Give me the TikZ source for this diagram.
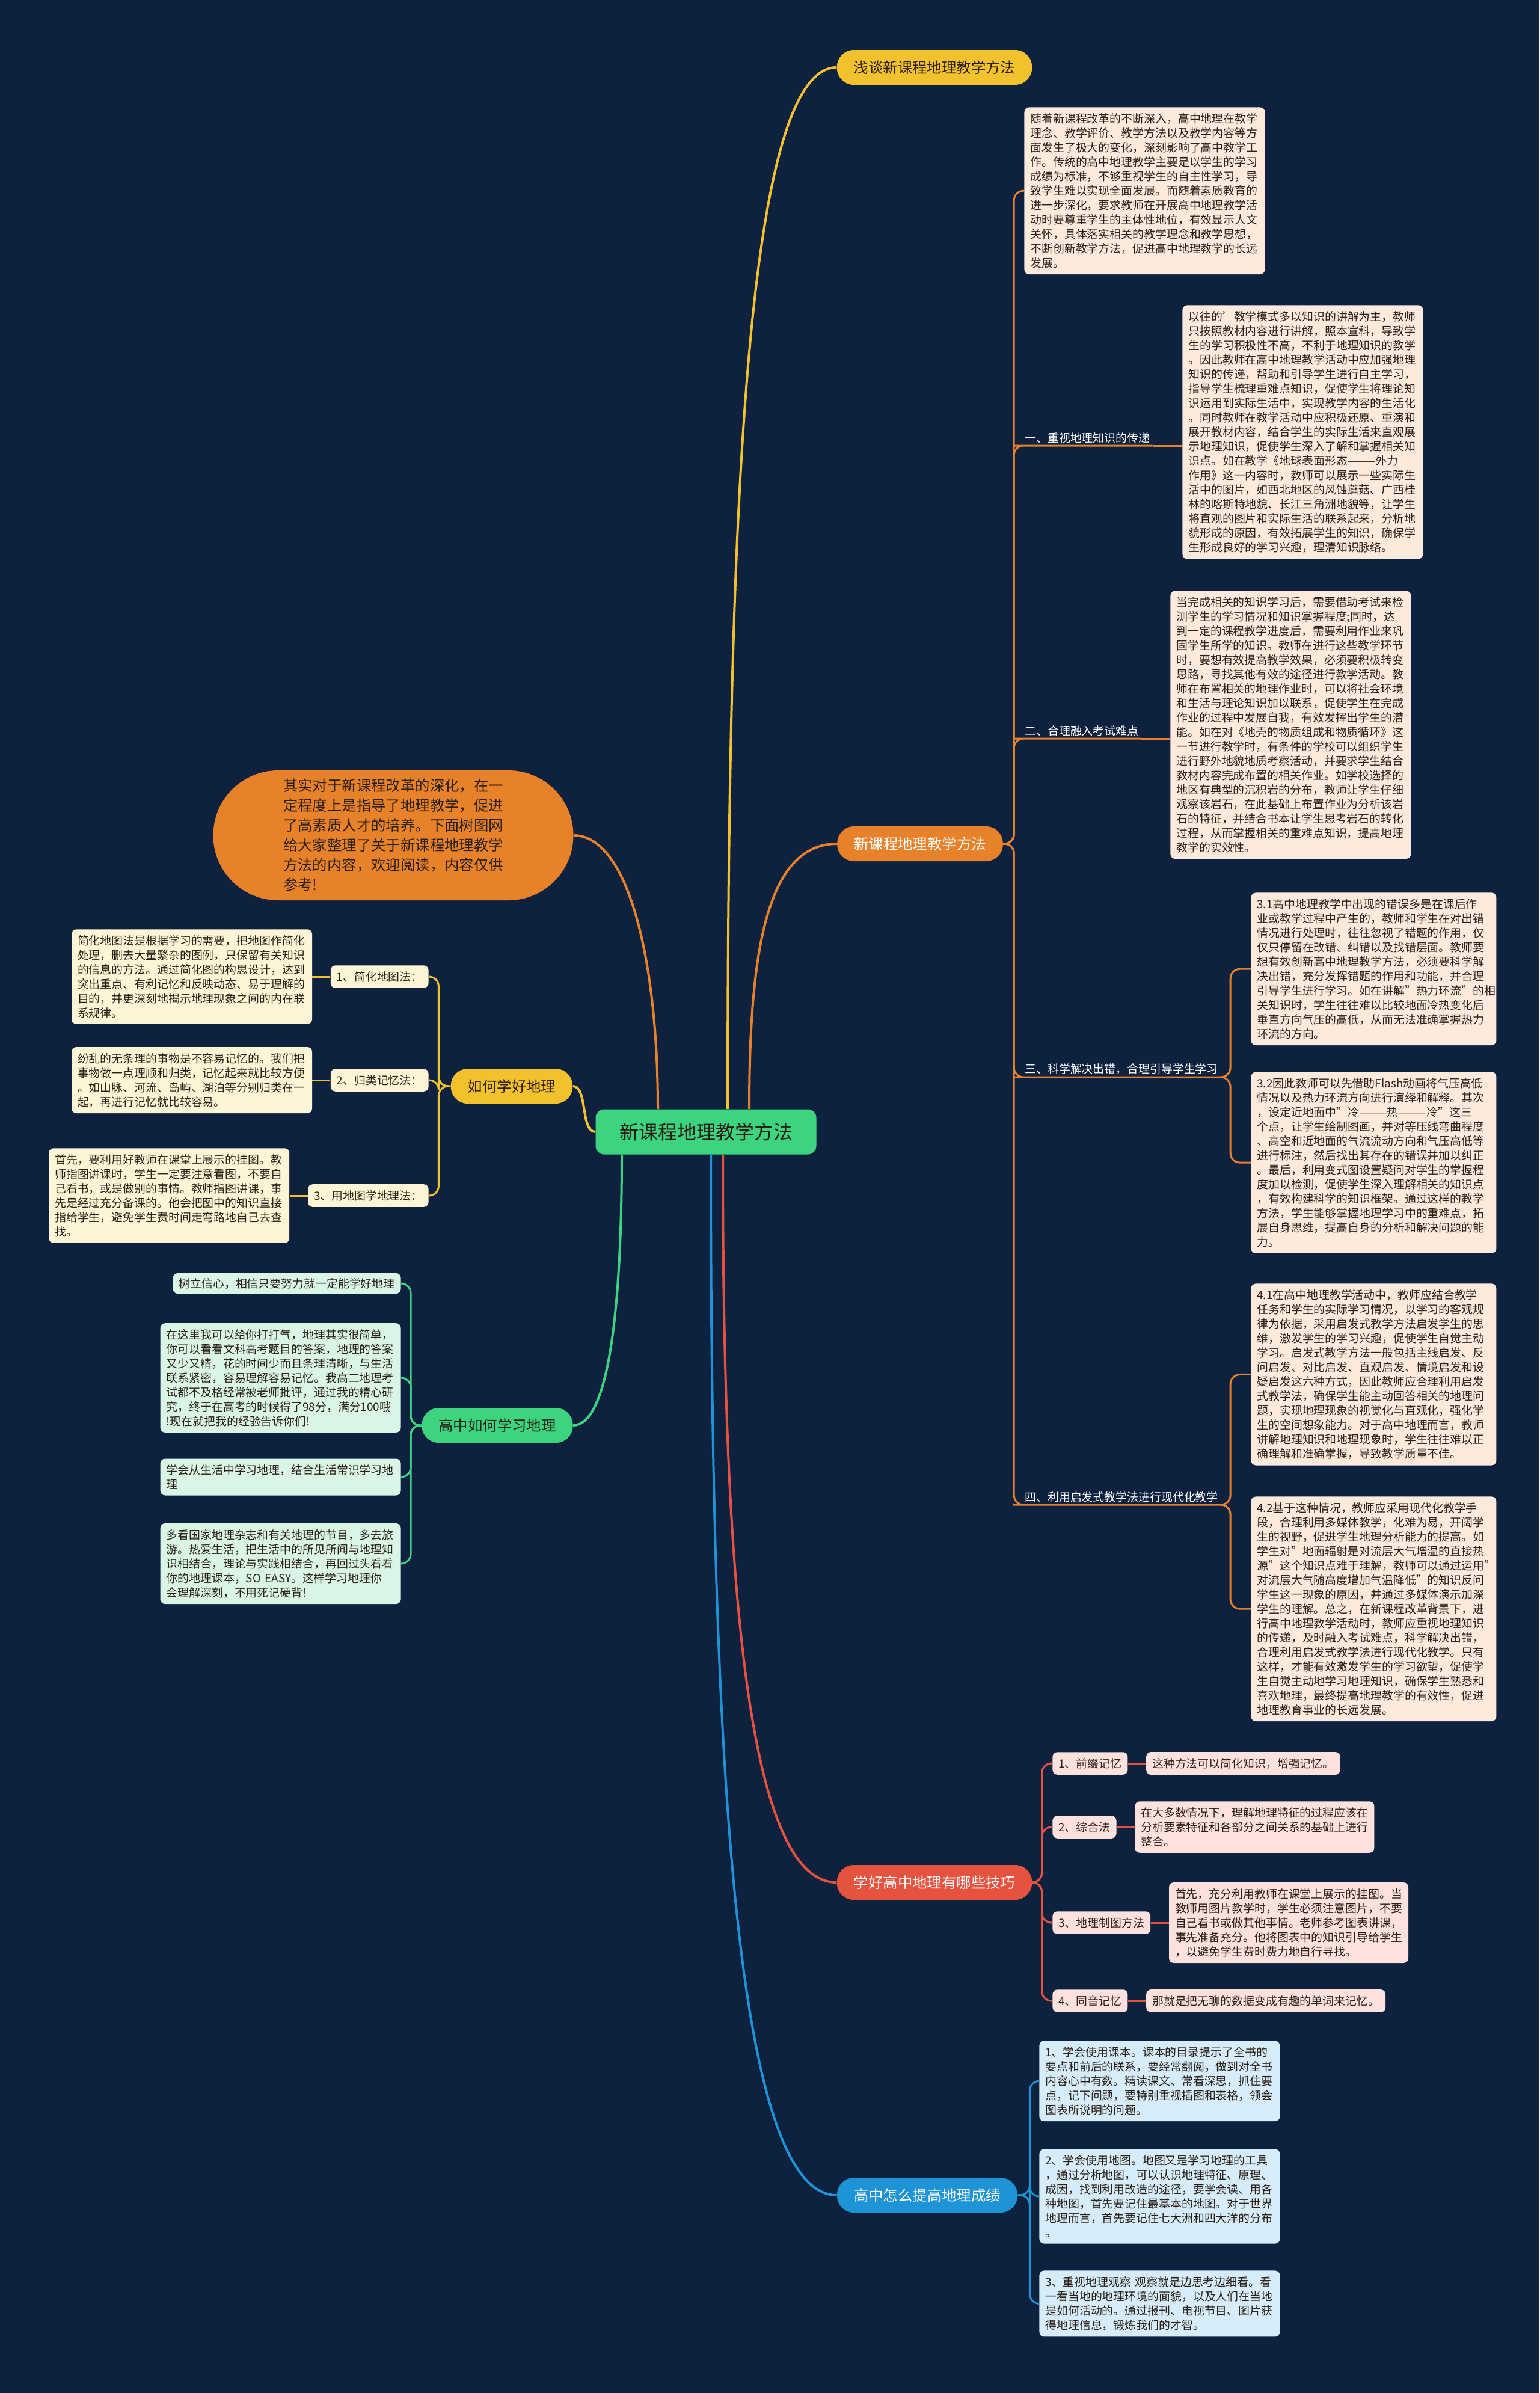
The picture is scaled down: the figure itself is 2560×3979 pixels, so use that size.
\documentclass[tikz,border=0pt]{standalone}
\usepackage{fontspec}
\setmainfont{Noto Sans CJK SC}
\usepackage{xcolor}
\usetikzlibrary{positioning}
\definecolor{mmbg}{HTML}{0E2240}
\definecolor{mmink}{HTML}{2A2018}
\definecolor{mmgreen}{HTML}{3DD47F}
\definecolor{mmyellow}{HTML}{F2C12E}
\definecolor{mmorange}{HTML}{E8822A}
\definecolor{mmred}{HTML}{E5533F}
\definecolor{mmblue}{HTML}{1E93D6}
\definecolor{mmpeach}{HTML}{FCEBDC}
\definecolor{mmcream}{HTML}{FEF5D6}
\definecolor{mmmint}{HTML}{DAF5E6}
\definecolor{mmpink}{HTML}{FCE1DC}
\definecolor{mmsky}{HTML}{D6ECF8}

\begin{document}
\begin{tikzpicture}[x=0.5pt,y=-0.5pt,
  root/.style={rounded corners=7pt,fill=mmgreen,text=mmink,
               font=\fontsize{16}{19}\selectfont,minimum width=183.5pt,minimum height=37.5pt},
  pill/.style={rounded corners=14pt,minimum height=29pt,inner xsep=14pt,
               font=\fontsize{12.2}{14}\selectfont,text=mmink},
  bubble/.style={rounded corners=54pt,fill=mmorange,text=mmink,align=left,
               minimum width=299.5pt,minimum height=108pt,
               font=\fontsize{12.2}{16.5}\selectfont},
  note/.style={rounded corners=4pt,align=left,inner xsep=5pt,inner ysep=5pt,
               font=\fontsize{9.45}{12}\selectfont,text=mmink},
  tag/.style={inner sep=2pt,text=white,font=\fontsize{9.45}{12}\selectfont},
  bline/.style={line width=2pt},
  link/.style={line width=1.5pt,rounded corners=8pt},
  node distance=15pt
]
\fill[mmbg] (0,0) rectangle (2560,3979);
\useasboundingbox (0,0) rectangle (2560,3979);

% main topics
\node[root] (ctr) at (1174,1882) {新课程地理教学方法};
\node[pill,fill=mmyellow] (intro) at (1554,112) {浅谈新课程地理教学方法};
\node[pill,fill=mmorange,text=white] (meth) at (1530,1403) {新课程地理教学方法};
\node[pill,fill=mmred,text=white] (tips) at (1554,3130) {学好高中地理有哪些技巧};
\node[pill,fill=mmblue,text=white] (score) at (1542,3650) {高中怎么提高地理成绩};
\node[pill,fill=mmyellow] (good) at (851,1806) {如何学好地理};
\node[pill,fill=mmgreen] (study) at (827,2370) {高中如何学习地理};
\node[bubble] (lead) at (654,1389) {其实对于新课程改革的深化，在一\\
定程度上是指导了地理教学，促进\\
了高素质人才的培养。下面树图网\\
给大家整理了关于新课程地理教学\\
方法的内容，欢迎阅读，内容仅供\\
参考!};

\draw[bline,mmyellow] ([xshift=18pt]ctr.north) .. controls +(0,-1000) and +(-150,0) .. (intro.west);
\draw[bline,mmorange] ([xshift=36pt]ctr.north) .. controls +(0,-250) and +(-120,0) .. (meth.west);
\draw[bline,mmred] ([xshift=14pt]ctr.south) .. controls +(0,700) and +(-150,0) .. (tips.west);
\draw[bline,mmblue] ([xshift=4pt]ctr.south) .. controls +(0,1000) and +(-170,0) .. (score.west);
\draw[bline,mmyellow] (ctr.west) .. controls +(-25,0) and +(25,0) .. (good.east);
\draw[bline,mmgreen] ([xshift=-70pt]ctr.south) .. controls +(0,250) and +(60,0) .. (study.east);
\draw[bline,mmorange] ([xshift=-40pt]ctr.north) .. controls +(0,-250) and +(90,0) .. (lead.east);

% new-curriculum methods
\node[note,fill=mmpeach,anchor=north west,text width=190pt] (m0) at (1703,178) {随着新课程改革的不断深入，高中地理在教学\\
理念、教学评价、教学方法以及教学内容等方\\
面发生了极大的变化，深刻影响了高中教学工\\
作。传统的高中地理教学主要是以学生的学习\\
成绩为标准，不够重视学生的自主性学习，导\\
致学生难以实现全面发展。而随着素质教育的\\
进一步深化，要求教师在开展高中地理教学活\\
动时要尊重学生的主体性地位，有效显示人文\\
关怀，具体落实相关的教学理念和教学思想，\\
不断创新教学方法，促进高中地理教学的长远\\
发展。};
\node[tag,anchor=south west] (m1) at (1700,741) {一、重视地理知识的传递};
\node[tag,anchor=south west] (m2) at (1700,1228) {二、合理融入考试难点};
\node[tag,anchor=south west] (m3) at (1700,1791) {三、科学解决出错，合理引导学生学习};
\node[tag,anchor=south west] (m4) at (1700,2502) {四、利用启发式教学法进行现代化教学};

\node[note,fill=mmpeach,anchor=north west,text width=190pt] (m1t) at (1966,507) {以往的'教学模式多以知识的讲解为主，教师\\
只按照教材内容进行讲解，照本宣科，导致学\\
生的学习积极性不高，不利于地理知识的教学\\
。因此教师在高中地理教学活动中应加强地理\\
知识的传递，帮助和引导学生进行自主学习，\\
指导学生梳理重难点知识，促使学生将理论知\\
识运用到实际生活中，实现教学内容的生活化\\
。同时教师在教学活动中应积极还原、重演和\\
展开教材内容，结合学生的实际生活来直观展\\
示地理知识，促使学生深入了解和掌握相关知\\
识点。如在教学《地球表面形态———外力\\
作用》这一内容时，教师可以展示一些实际生\\
活中的图片，如西北地区的风蚀蘑菇、广西桂\\
林的喀斯特地貌、长江三角洲地貌等，让学生\\
将直观的图片和实际生活的联系起来，分析地\\
貌形成的原因，有效拓展学生的知识，确保学\\
生形成良好的学习兴趣，理清知识脉络。};
\node[note,fill=mmpeach,anchor=north west,text width=190pt] (m2t) at (1946,982) {当完成相关的知识学习后，需要借助考试来检\\
测学生的学习情况和知识掌握程度;同时，达\\
到一定的课程教学进度后，需要利用作业来巩\\
固学生所学的知识。教师在进行这些教学环节\\
时，要想有效提高教学效果，必须要积极转变\\
思路，寻找其他有效的途径进行教学活动。教\\
师在布置相关的地理作业时，可以将社会环境\\
和生活与理论知识加以联系，促使学生在完成\\
作业的过程中发展自我，有效发挥出学生的潜\\
能。如在对《地壳的物质组成和物质循环》这\\
一节进行教学时，有条件的学校可以组织学生\\
进行野外地貌地质考察活动，并要求学生结合\\
教材内容完成布置的相关作业。如学校选择的\\
地区有典型的沉积岩的分布，教师让学生仔细\\
观察该岩石，在此基础上布置作业为分析该岩\\
石的特征，并结合书本让学生思考岩石的转化\\
过程，从而掌握相关的重难点知识，提高地理\\
教学的实效性。};
\node[note,fill=mmpeach,anchor=north west,text width=194pt] (m31) at (2080,1484) {3.1高中地理教学中出现的错误多是在课后作\\
业或教学过程中产生的，教师和学生在对出错\\
情况进行处理时，往往忽视了错题的作用，仅\\
仅只停留在改错、纠错以及找错层面。教师要\\
想有效创新高中地理教学方法，必须要科学解\\
决出错，充分发挥错题的作用和功能，并合理\\
引导学生进行学习。如在讲解"热力环流"的相\\
关知识时，学生往往难以比较地面冷热变化后\\
垂直方向气压的高低，从而无法准确掌握热力\\
环流的方向。};
\node[note,fill=mmpeach,anchor=north west,text width=194pt] (m32) at (2080,1782) {3.2因此教师可以先借助Flash动画将气压高低\\
情况以及热力环流方向进行演绎和解释。其次\\
，设定近地面中"冷———热———冷"这三\\
个点，让学生绘制图画，并对等压线弯曲程度\\
、高空和近地面的气流流动方向和气压高低等\\
进行标注，然后找出其存在的错误并加以纠正\\
。最后，利用变式图设置疑问对学生的掌握程\\
度加以检测，促使学生深入理解相关的知识点\\
，有效构建科学的知识框架。通过这样的教学\\
方法，学生能够掌握地理学习中的重难点，拓\\
展自身思维，提高自身的分析和解决问题的能\\
力。};
\node[note,fill=mmpeach,anchor=north west,text width=194pt] (m41) at (2080,2134) {4.1在高中地理教学活动中，教师应结合教学\\
任务和学生的实际学习情况，以学习的客观规\\
律为依据，采用启发式教学方法启发学生的思\\
维，激发学生的学习兴趣，促使学生自觉主动\\
学习。启发式教学方法一般包括主线启发、反\\
问启发、对比启发、直观启发、情境启发和设\\
疑启发这六种方式，因此教师应合理利用启发\\
式教学法，确保学生能主动回答相关的地理问\\
题，实现地理现象的视觉化与直观化，强化学\\
生的空间想象能力。对于高中地理而言，教师\\
讲解地理知识和地理现象时，学生往往难以正\\
确理解和准确掌握，导致教学质量不佳。};
\node[note,fill=mmpeach,anchor=north west,text width=194pt] (m42) at (2080,2488) {4.2基于这种情况，教师应采用现代化教学手\\
段，合理利用多媒体教学，化难为易，开阔学\\
生的视野，促进学生地理分析能力的提高。如\\
学生对"地面辐射是对流层大气增温的直接热\\
源"这个知识点难于理解，教师可以通过运用"\\
对流层大气随高度增加气温降低"的知识反问\\
学生这一现象的原因，并通过多媒体演示加深\\
学生的理解。总之，在新课程改革背景下，进\\
行高中地理教学活动时，教师应重视地理知识\\
的传递，及时融入考试难点，科学解决出错，\\
合理利用启发式教学法进行现代化教学。只有\\
这样，才能有效激发学生的学习欲望，促使学\\
生自觉主动地学习地理知识，确保学生熟悉和\\
喜欢地理，最终提高地理教学的有效性，促进\\
地理教育事业的长远发展。};

\coordinate (methRoute) at ([xshift=9pt]meth.east);
\draw[link,mmorange] (meth.east) -- (methRoute) |- (m0.west);
\foreach \t in {m1,m2,m3,m4}
  \draw[link,mmorange] (meth.east) -- (methRoute) |- (\t.south west) -- (\t.south east);
\draw[link,mmorange] (m1.south east) -- (m1t.west |- m1.south);
\draw[link,mmorange] (m2.south east) -- (m2t.west |- m2.south);
\coordinate (m3Route) at ([xshift=8pt]m3.south east);
\draw[link,mmorange] (m3.south east) -- (m3Route) |- (m31.west);
\draw[link,mmorange] (m3.south east) -- (m3Route) |- (m32.west);
\coordinate (m4Route) at ([xshift=8pt]m4.south east);
\draw[link,mmorange] (m4.south east) -- (m4Route) |- (m41.west);
\draw[link,mmorange] (m4.south east) -- (m4Route) |- (m42.west);

% memory tips
\node[note,fill=mmpink,anchor=west] (t1) at (1750,2932) {1、前缀记忆};
\node[note,fill=mmpink,anchor=west] (t2) at (1750,3038) {2、综合法};
\node[note,fill=mmpink,anchor=west] (t3) at (1750,3197) {3、地理制图方法};
\node[note,fill=mmpink,anchor=west] (t4) at (1750,3327) {4、同音记忆};
\node[note,fill=mmpink,right=of t1] (t1t) {这种方法可以简化知识，增强记忆。};
\node[note,fill=mmpink,right=of t2] (t2t) {在大多数情况下，理解地理特征的过程应该在\\
分析要素特征和各部分之间关系的基础上进行\\
整合。};
\node[note,fill=mmpink,right=of t3] (t3t) {首先，充分利用教师在课堂上展示的挂图。当\\
教师用图片教学时，学生必须注意图片，不要\\
自己看书或做其他事情。老师参考图表讲课，\\
事先准备充分。他将图表中的知识引导给学生\\
，以避免学生费时费力地自行寻找。};
\node[note,fill=mmpink,right=of t4] (t4t) {那就是把无聊的数据变成有趣的单词来记忆。};
\coordinate (tipsRoute) at ([xshift=8pt]tips.east);
\foreach \t in {t1,t2,t3,t4} {
  \draw[link,mmred] (tips.east) -- (tipsRoute) |- (\t.west);
  \draw[link,mmred] (\t.east) -- (\t t.west);
}

% raising scores
\node[note,fill=mmsky,anchor=north west,text width=190pt] (s1) at (1728,3393) {1、学会使用课本。课本的目录提示了全书的\\
要点和前后的联系，要经常翻阅，做到对全书\\
内容心中有数。精读课文、常看深思，抓住要\\
点，记下问题，要特别重视插图和表格，领会\\
图表所说明的问题。};
\node[note,fill=mmsky,anchor=north west,text width=190pt] (s2) at (1728,3573) {2、学会使用地图。地图又是学习地理的工具\\
，通过分析地图，可以认识地理特征、原理、\\
成因，找到利用改造的途径，要学会读、用各\\
种地图，首先要记住最基本的地图。对于世界\\
地理而言，首先要记住七大洲和四大洋的分布\\
。};
\node[note,fill=mmsky,anchor=north west,text width=190pt] (s3) at (1728,3775) {3、重视地理观察 观察就是边思考边细看。看\\
一看当地的地理环境的面貌，以及人们在当地\\
是如何活动的。通过报刊、电视节目、图片获\\
得地理信息，锻炼我们的才智。};
\coordinate (scoreRoute) at ([xshift=10pt]score.east);
\foreach \t in {s1,s2,s3}
  \draw[link,mmblue] (score.east) -- (scoreRoute) |- (\t.west);

% learning geography well
\node[note,fill=mmcream,anchor=east] (y1) at (713,1624) {1、简化地图法：};
\node[note,fill=mmcream,anchor=east] (y2) at (713,1796) {2、归类记忆法：};
\node[note,fill=mmcream,anchor=east] (y3) at (713,1988) {3、用地图学地理法：};
\node[note,fill=mmcream,text width=190pt,left=of y1] (y1t) {简化地图法是根据学习的需要，把地图作简化\\
处理，删去大量繁杂的图例，只保留有关知识\\
的信息的方法。通过简化图的构思设计，达到\\
突出重点、有利记忆和反映动态、易于理解的\\
目的，并更深刻地揭示地理现象之间的内在联\\
系规律。};
\node[note,fill=mmcream,text width=190pt,left=of y2] (y2t) {纷乱的无条理的事物是不容易记忆的。我们把\\
事物做一点理顺和归类，记忆起来就比较方便\\
。如山脉、河流、岛屿、湖泊等分别归类在一\\
起，再进行记忆就比较容易。};
\node[note,fill=mmcream,text width=190pt,left=of y3] (y3t) {首先，要利用好教师在课堂上展示的挂图。教\\
师指图讲课时，学生一定要注意看图，不要自\\
己看书，或是做别的事情。教师指图讲课，事\\
先是经过充分备课的。他会把图中的知识直接\\
指给学生，避免学生费时间走弯路地自己去查\\
找。};
\coordinate (goodRoute) at ([xshift=-10pt]good.west);
\foreach \t in {y1,y2,y3} {
  \draw[link,mmyellow] (good.west) -- (goodRoute) |- (\t.east);
  \draw[link,mmyellow] (\t.west) -- (\t t.east);
}

% studying in senior high
\node[note,fill=mmmint,anchor=east,inner ysep=4pt] (g1) at (667,2134) {树立信心，相信只要努力就一定能学好地理};
\node[note,fill=mmmint,anchor=east,text width=190pt] (g2) at (667,2291) {在这里我可以给你打打气，地理其实很简单，\\
你可以看看文科高考题目的答案，地理的答案\\
又少又精，花的时间少而且条理清晰，与生活\\
联系紧密，容易理解容易记忆。我高二地理考\\
试都不及格经常被老师批评，通过我的精心研\\
究，终于在高考的时候得了98分，满分100哦\\
!现在就把我的经验告诉你们!};
\node[note,fill=mmmint,anchor=east,text width=190pt] (g3) at (667,2456) {学会从生活中学习地理，结合生活常识学习地\\
理};
\node[note,fill=mmmint,anchor=east,text width=190pt] (g4) at (667,2600) {多看国家地理杂志和有关地理的节目，多去旅\\
游。热爱生活，把生活中的所见所闻与地理知\\
识相结合，理论与实践相结合，再回过头看看\\
你的地理课本，SO EASY。这样学习地理你\\
会理解深刻，不用死记硬背!};
\coordinate (studyRoute) at ([xshift=-9pt]study.west);
\foreach \t in {g1,g2,g3,g4}
  \draw[link,mmgreen] (study.west) -- (studyRoute) |- (\t.east);
\end{tikzpicture}
\end{document}
